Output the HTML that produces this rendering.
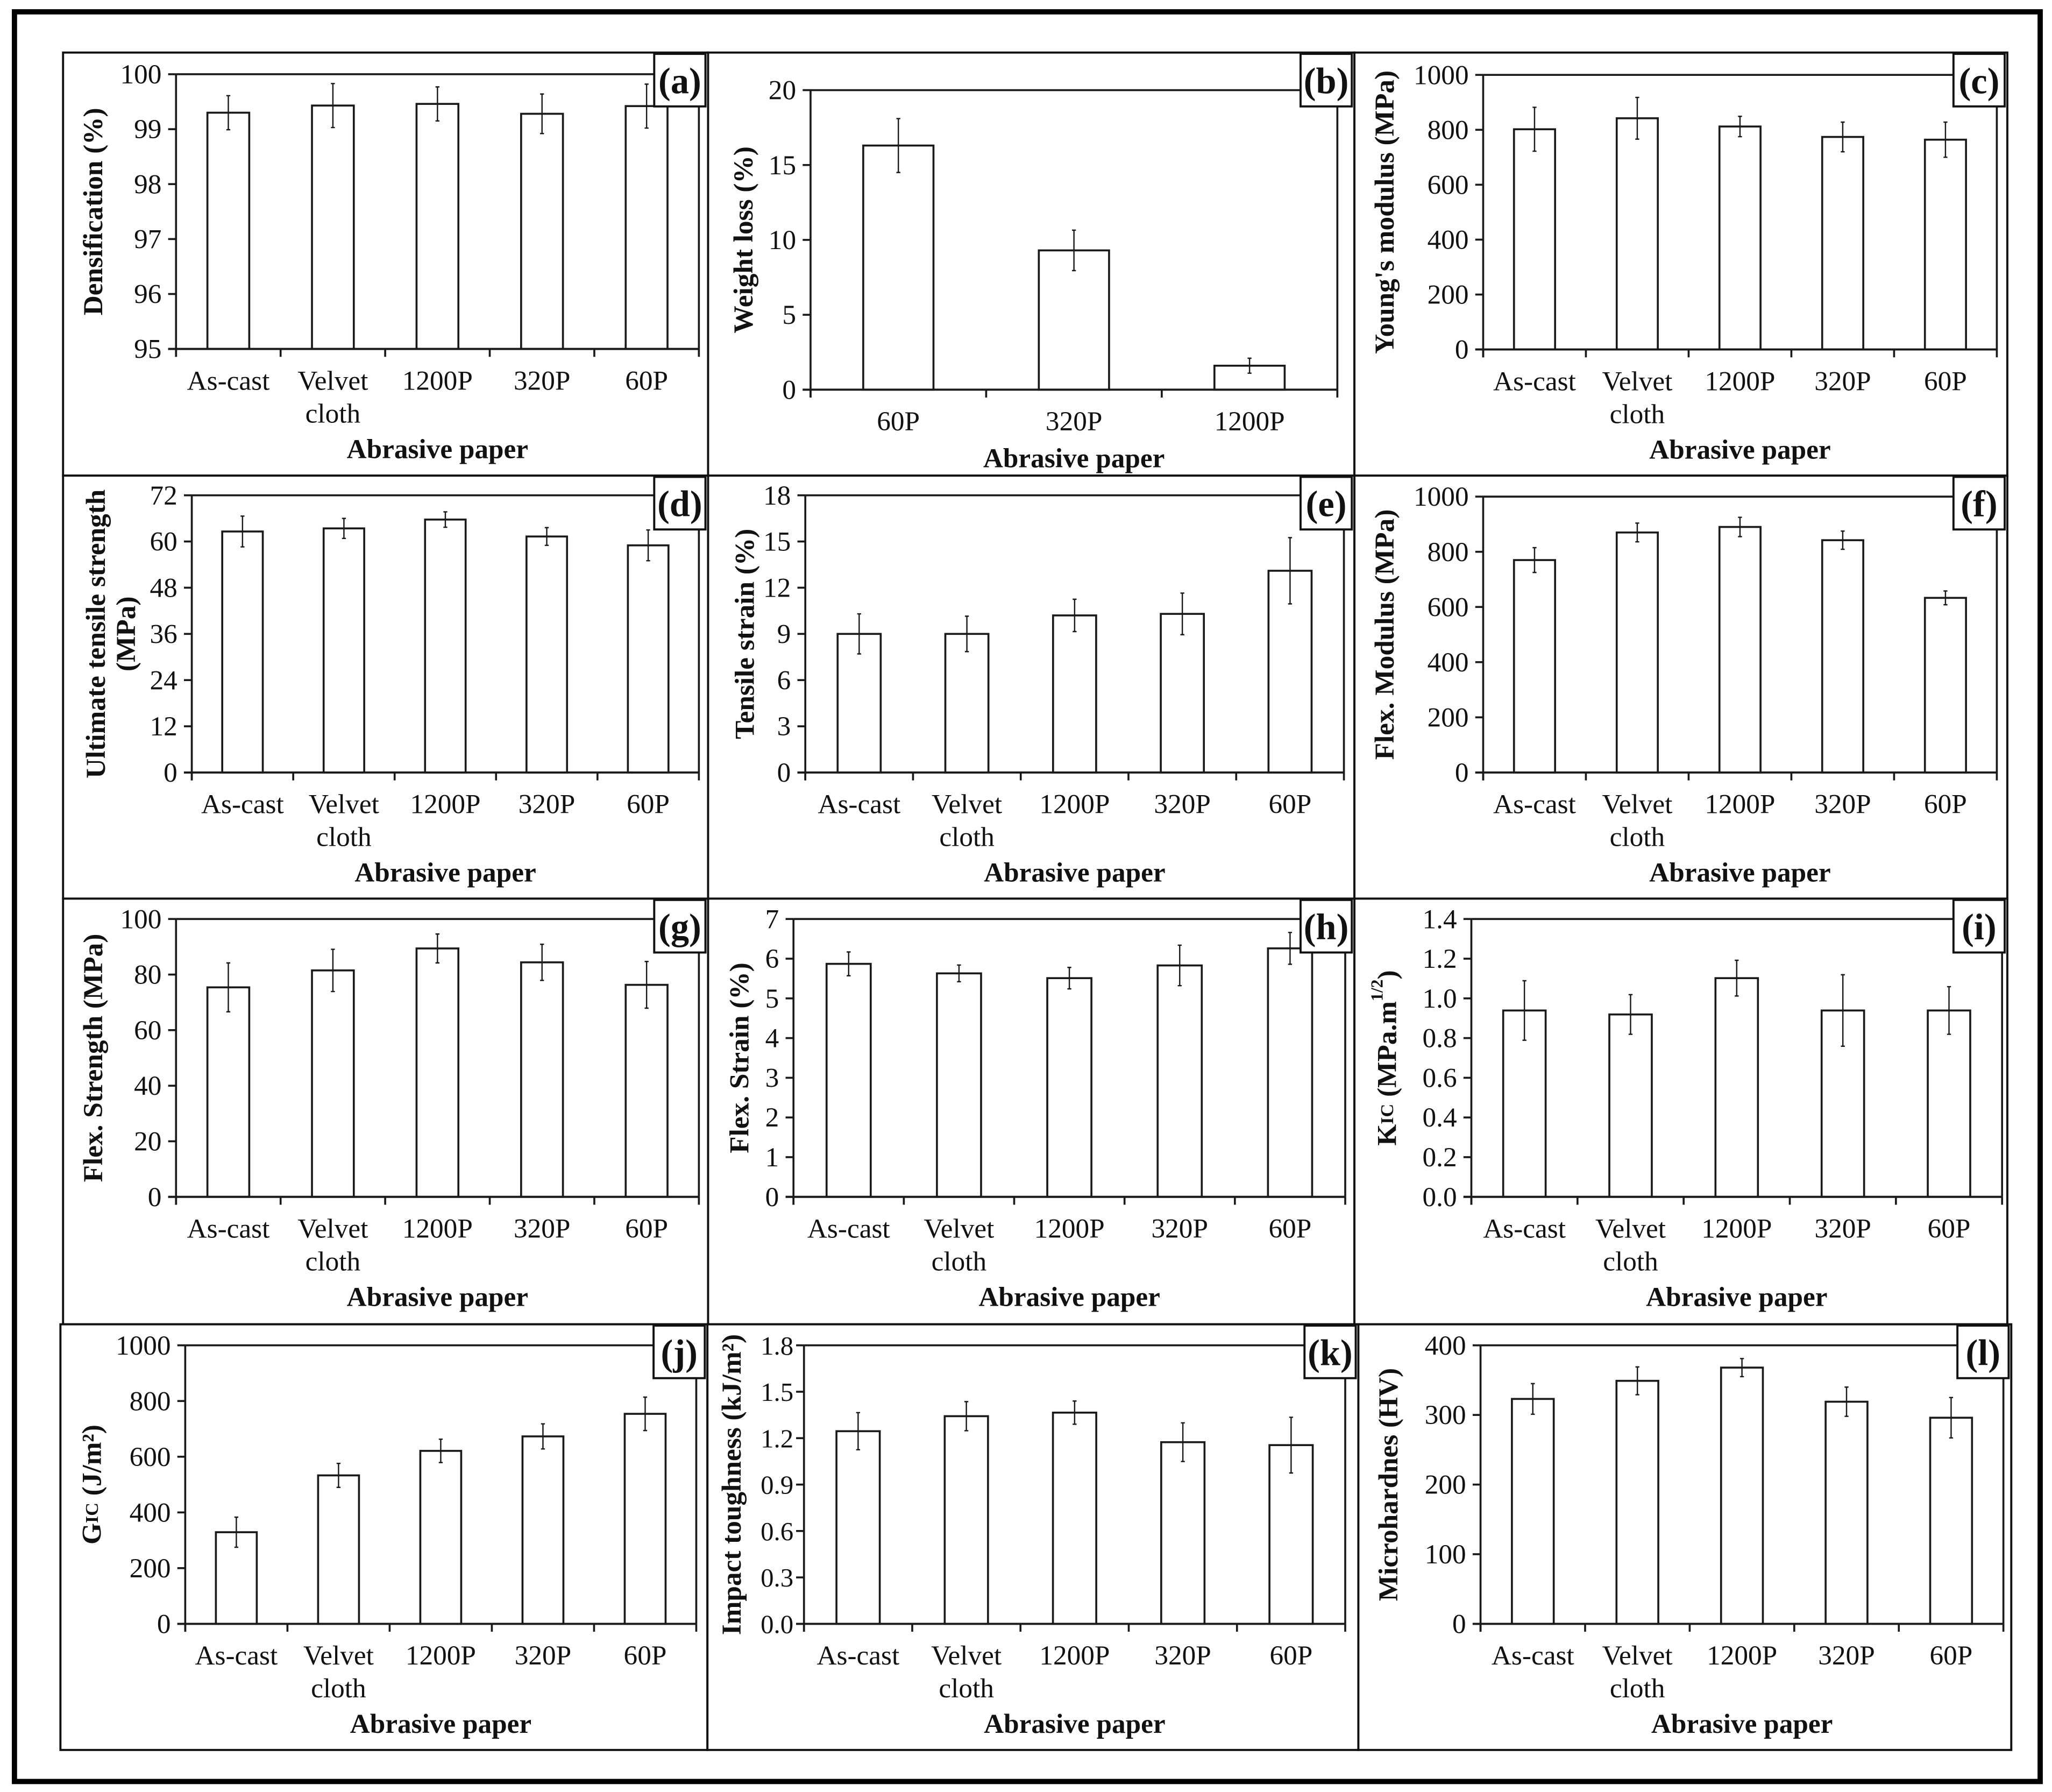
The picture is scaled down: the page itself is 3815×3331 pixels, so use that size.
<!DOCTYPE html>
<html>
<head>
<meta charset="utf-8">
<style>
html,body{margin:0;padding:0;background:#fff;}
svg{display:block;}
text{font-family:"Liberation Serif","Times New Roman",serif;fill:#111;}
</style>
</head>
<body>
<svg id="fig" xmlns="http://www.w3.org/2000/svg" width="3815" height="3331" viewBox="0 0 1562 1364" preserveAspectRatio="none">
<rect x="11" y="9" width="1542" height="1347" fill="#fff" stroke="#000" stroke-width="4"/>
</svg>
<script>
// ---- data arrays ----
const cats5 = ["As-cast", "Velvet|cloth", "1200P", "320P", "60P"];
const catsB = ["60P", "320P", "1200P"];
const aVals = [99.30, 99.43, 99.46, 99.28, 99.42];
const aErr  = [0.31, 0.40, 0.31, 0.36, 0.40];
const bVals = [16.3, 9.3, 1.6];
const bErr  = [1.8, 1.35, 0.5];
const cVals = [802, 842, 812, 774, 764];
const cErr  = [80, 76, 37, 54, 64];
const dVals = [62.6, 63.4, 65.7, 61.3, 59.0];
const dErr  = [4.0, 2.6, 2.0, 2.3, 4.0];
const eVals = [9.0, 9.0, 10.2, 10.3, 13.1];
const eErr  = [1.3, 1.15, 1.05, 1.35, 2.15];
const fVals = [770, 870, 890, 842, 633];
const fErr  = [45, 34, 35, 33, 25];
const gVals = [75.4, 81.5, 89.4, 84.4, 76.3];
const gErr  = [8.8, 7.6, 5.2, 6.5, 8.4];
const hVals = [5.87, 5.63, 5.51, 5.83, 6.26];
const hErr  = [0.30, 0.21, 0.27, 0.51, 0.40];
const iVals = [0.939, 0.919, 1.102, 0.939, 0.939];
const iErr  = [0.15, 0.10, 0.09, 0.18, 0.12];
const jVals = [329, 533, 621, 673, 754];
const jErr  = [54, 43, 42, 45, 60];
const kVals = [1.245, 1.342, 1.365, 1.174, 1.155];
const kErr  = [0.12, 0.094, 0.075, 0.125, 0.18];
const lVals = [323, 349, 368, 319, 296];
const lErr  = [22, 20, 13, 21, 29];
const aTicks = [95, 96, 97, 98, 99, 100];
const bTicks = [0, 5, 10, 15, 20];
const modTicks = [0, 200, 400, 600, 800, 1000];
const dTicks = [0, 12, 24, 36, 48, 60, 72];
const eTicks = [0, 3, 6, 9, 12, 15, 18];
const gTicks = [0, 20, 40, 60, 80, 100];
const hTicks = [0, 1, 2, 3, 4, 5, 6, 7];
const iTicks = [0.0, 0.2, 0.4, 0.6, 0.8, 1.0, 1.2, 1.4];
const kTicks = [0.0, 0.3, 0.6, 0.9, 1.2, 1.5, 1.8];
const lTicks = [0, 100, 200, 300, 400];

const NS = "http://www.w3.org/2000/svg";
const svg = document.getElementById("fig");
function el(tag, attrs, parent) {
  const e = document.createElementNS(NS, tag);
  for (const k in attrs) e.setAttribute(k, attrs[k]);
  (parent || svg).appendChild(e);
  return e;
}

const panels = [
  {id:"a", cats:cats5, vals:aVals, err:aErr, ticks:aTicks, dec:0, px:[48,40,539,362], ax:134, right:532, top:56.5, bottom:265.6, title:["Densification (%)"], tx:[71]},
  {id:"b", cats:catsB, vals:bVals, err:bErr, ticks:bTicks, dec:0, px:[539,40,1031,362], ax:617, right:1018, top:68.6, bottom:296.6, title:["Weight loss (%)"], tx:[566]},
  {id:"c", cats:cats5, vals:cVals, err:cErr, ticks:modTicks, dec:0, px:[1031,40,1528,362], ax:1129, right:1520, top:57, bottom:266, title:["Young's modulus (MPa)"], tx:[1054]},
  {id:"d", cats:cats5, vals:dVals, err:dErr, ticks:dTicks, dec:0, px:[48,362,539,684], ax:146, right:532, top:377, bottom:588, title:["Ultimate tensile strength","(MPa)"], tx:[73,96]},
  {id:"e", cats:cats5, vals:eVals, err:eErr, ticks:eTicks, dec:0, px:[539,362,1031,684], ax:613, right:1023, top:377, bottom:588, title:["Tensile strain (%)"], tx:[567]},
  {id:"f", cats:cats5, vals:fVals, err:fErr, ticks:modTicks, dec:0, px:[1031,362,1528,684], ax:1129, right:1520, top:378, bottom:588, title:["Flex. Modulus (MPa)"], tx:[1054]},
  {id:"g", cats:cats5, vals:gVals, err:gErr, ticks:gTicks, dec:0, px:[48,684,539,1008], ax:134, right:532, top:699.5, bottom:911, title:["Flex. Strength (MPa)"], tx:[71]},
  {id:"h", cats:cats5, vals:hVals, err:hErr, ticks:hTicks, dec:0, px:[539,684,1031,1008], ax:604, right:1024, top:699.5, bottom:911, title:["Flex. Strain (%)"], tx:[563]},
  {id:"i", cats:cats5, vals:iVals, err:iErr, ticks:iTicks, dec:1, px:[1031,684,1528,1008], ax:1120, right:1524, top:699.5, bottom:911, title:["KIC"], tx:[1056]},
  {id:"j", cats:cats5, vals:jVals, err:jErr, ticks:modTicks, dec:0, px:[46,1008,538.5,1332], ax:141, right:530, top:1024, bottom:1236, title:["GIC"], tx:[70]},
  {id:"k", cats:cats5, vals:kVals, err:kErr, ticks:kTicks, dec:1, px:[538.5,1008,1034,1332], ax:612, right:1024, top:1024, bottom:1236, title:["Impact toughness (kJ/m²)"], tx:[557], tfs:20, tgap:8},
  {id:"l", cats:cats5, vals:lVals, err:lErr, ticks:lTicks, dec:0, px:[1034,1008,1531,1332], ax:1127, right:1525, top:1024, bottom:1236, title:["Microhardnes (HV)"], tx:[1057]}
];

const STK = "#1a1a1a";

panels.forEach(p => {
  const g = el("g", {});
  
  
  const [x0, y0, x1, y1] = p.px;
  const border = el("rect", {x:x0, y:y0, width:x1-x0, height:y1-y0, fill:"#fff", stroke:"#111", "stroke-width":1.6}, g);
  
  

  const ymin = p.ticks[0], ymax = p.ticks[p.ticks.length-1];
  const yS = v => p.bottom - (v - ymin) / (ymax - ymin) * (p.bottom - p.top);
  const n = p.cats.length;
  const cw = (p.right - p.ax) / n;
  const xC = i => p.ax + cw * (i + 0.5);

  const bx1 = x1 - 2, bx0 = bx1 - 39, by0 = y0 + 1, by1 = by0 + 40;

  const topLine = el("line", {x1:p.ax, y1:p.top, x2:bx0, y2:p.top, stroke:STK, "stroke-width":1.5}, g);
  
  
  const rightLine = el("line", {x1:p.right, y1:Math.max(p.top, by1), x2:p.right, y2:p.bottom, stroke:STK, "stroke-width":1.5}, g);
  
  

  p.vals.forEach((v, i) => {
    const bw = cw * 0.4;
    const yt = yS(v);
    const r = el("rect", {x:xC(i)-bw/2, y:yt, width:bw, height:p.bottom-yt, fill:"#fff", stroke:STK, "stroke-width":1.5}, g);
    
    
    const e = p.err[i];
    const eb = el("path", {d:`M${xC(i)},${yS(v+e)}V${yS(v-e)}M${xC(i)-1.5},${yS(v+e)}h3M${xC(i)-1.5},${yS(v-e)}h3`, stroke:STK, "stroke-width":1, fill:"none"}, g);
    
    
  });

  const yAxis = el("line", {x1:p.ax, y1:p.top, x2:p.ax, y2:p.bottom+6, stroke:STK, "stroke-width":1.5}, g);
  
  
  const xAxis = el("line", {x1:p.ax-6, y1:p.bottom, x2:p.right, y2:p.bottom, stroke:STK, "stroke-width":1.6}, g);
  
  

  const tfs = p.tfs || 21, tgap = p.tgap || 11;
  p.ticks.forEach(t => {
    const y = yS(t);
    const tk = el("line", {x1:p.ax-6, y1:y, x2:p.ax, y2:y, stroke:STK, "stroke-width":1.5}, g);
    
    
    const tl = el("text", {x:p.ax-tgap, y:y+7, "text-anchor":"end", "font-size":tfs}, g);
    tl.textContent = t.toFixed(p.dec);
    
    
  });
  for (let i = 0; i <= n; i++) {
    const x = p.ax + cw * i;
    const tk = el("line", {x1:x, y1:p.bottom, x2:x, y2:p.bottom+6, stroke:STK, "stroke-width":1.5}, g);
    
    
  }
  let twoLine = false;
  p.cats.forEach((c, i) => {
    const parts = c.split('|');
    if (parts.length > 1) twoLine = true;
    parts.forEach((s, k) => {
      const t = el("text", {x:xC(i), y:p.bottom + 31 + k*25, "text-anchor":"middle", "font-size":21}, g);
      t.textContent = s;
      
      
    });
  });
  const xt = el("text", {x:(p.ax+p.right)/2, y:p.bottom + (twoLine ? 83 : 59), "text-anchor":"middle", "font-size":21, "font-weight":"bold"}, g);
  xt.textContent = "Abrasive paper";
  
  

  const cy = (p.top + p.bottom) / 2;
  p.title.forEach((s, k) => {
    const tx = p.tx[k];
    const t = el("text", {x:tx, y:cy, "text-anchor":"middle", "dominant-baseline":"central", "font-size":21, "font-weight":"bold", transform:`rotate(-90 ${tx} ${cy})`}, g);
    if (s === "KIC") {
      t.innerHTML = 'K<tspan font-size="14">IC</tspan> (MPa.m<tspan font-size="13" dy="-8">1/2</tspan><tspan dy="8">)</tspan>';
    } else if (s === "GIC") {
      t.innerHTML = 'G<tspan font-size="14">IC</tspan> (J/m²)';
    } else {
      t.textContent = s;
    }
    
    
  });

  const lb = el("rect", {x:bx0, y:by0, width:bx1-bx0, height:by1-by0, fill:"#fff", stroke:"#111", "stroke-width":1.6}, g);
  
  
  const lt = el("text", {x:(bx0+bx1)/2, y:by0+30, "text-anchor":"middle", "font-size":28, "font-weight":"bold"}, g);
  lt.textContent = "(" + p.id + ")";
  
  
});
</script>
</body>
</html>
